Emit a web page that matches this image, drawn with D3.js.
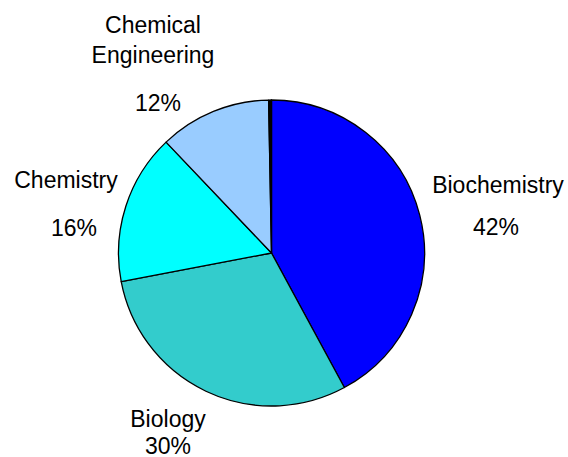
<!DOCTYPE html>
<html>
<head>
<meta charset="utf-8">
<script src="https://cdn.jsdelivr.net/npm/d3@7"></script>
<style>
  body { margin: 0; background: #fff; }
  svg { display: block; }
  text { font-family: "Liberation Sans", Arial, sans-serif; font-size: 23px; fill: #000; }
</style>
</head>
<body>
<svg id="chart" width="568" height="457"></svg>
<script>
// slices clockwise from 12 o'clock
const subjects = ['Biochemistry', 'Biology', 'Chemistry', 'Chemical Engineering', 'Other'];
const shares = [42.1, 29.9, 15.9, 11.8, 0.3];
const sliceColors = ['#0000ff', '#33cccc', '#00ffff', '#99ccff', '#000000'];
// label text lines (name lines then percent), drawn for the first four slices
const labelLines = [
    ['Biochemistry'],
    ['Biology'],
    ['Chemistry'],
    ['Chemical', 'Engineering']
];
// label positions: [name centre x, first baseline, percent centre x, percent baseline]
const labelPos = [
    [498, 193, 496, 235],
    [168, 427, 168, 454],
    [66, 188, 74, 236],
    [153, 33, 158, 111]
];

var cx = 271.5, cy = 253, radius = 153;
var chart = d3.select('#chart');
var g = chart.append('g').attr('transform', 'translate(' + cx + ',' + cy + ')');

var pie = d3.pie().sort(null).value(function (d) { return d; });
var arc = d3.arc().innerRadius(0).outerRadius(radius);
var arcs = pie(shares);

g.selectAll('path')
    .data(arcs)
    .enter()
    .append('path')
    .attr('d', arc)
    .attr('fill', function (d, i) { return sliceColors[i]; })
    .attr('stroke', '#000')
    .attr('stroke-width', 1.3)
    .attr('stroke-linejoin', 'round');

var total = d3.sum(shares);
var labels = chart.append('g');
labelLines.forEach(function (lines, i) {
    var p = labelPos[i];
    var t = labels.append('text').attr('text-anchor', 'middle');
    lines.forEach(function (line, j) {
        t.append('tspan').attr('x', p[0]).attr('y', p[1] + j * 30).text(line);
    });
    t.append('tspan')
        .attr('x', p[2])
        .attr('y', p[3])
        .text(Math.round(shares[i] / total * 100) + '%');
});
</script>
</body>
</html>
